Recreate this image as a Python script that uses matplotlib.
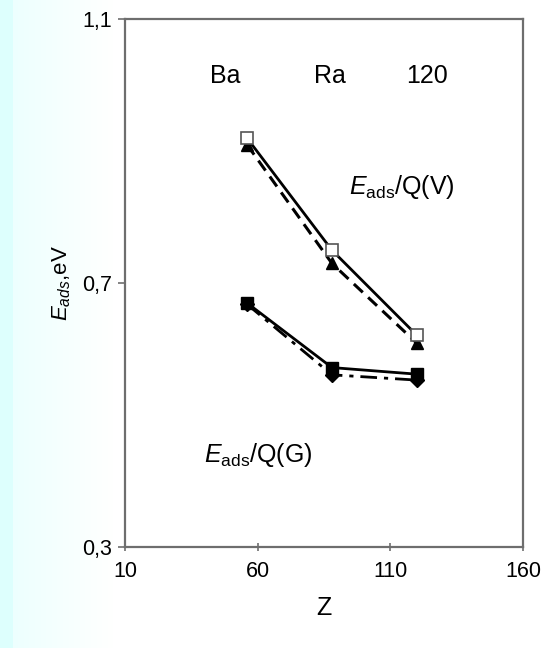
import numpy as np
import matplotlib
matplotlib.use("Agg")
import matplotlib.pyplot as plt

plt.rcParams['font.family'] = ['Liberation Sans', 'DejaVu Sans']
plt.rcParams['mathtext.fontset'] = 'custom'
plt.rcParams['mathtext.rm'] = 'Liberation Sans'
plt.rcParams['mathtext.it'] = 'Liberation Sans:italic'

# Atomic numbers of the adsorbed elements
z = [56, 88, 120]
elements = ["Ba", "Ra", "120"]

# Adsorption energies (eV)
eads_qv_solid = [0.920, 0.750, 0.621]    # open squares, solid line
eads_qv_dashed = [0.910, 0.730, 0.609]   # triangles, dashed line
eads_qg_solid = [0.670, 0.572, 0.562]    # filled squares, solid line
eads_qg_dashdot = [0.668, 0.561, 0.553]  # diamonds, dash-dot line

x_ticks = [10, 60, 110, 160]
y_ticks = [0.3, 0.7, 1.1]
y_tick_labels = ["0,3", "0,7", "1,1"]

fig = plt.figure(figsize=(5.47, 6.48), dpi=100)

# soft cyan band along the left edge of the slide
bg = fig.add_axes([0, 0, 1, 1], zorder=-10)
w = 547
xs = np.arange(w)
fade = np.clip(1 - (xs - 13) / 100.0, 0, 1) * 0.07
fade[xs < 13] = 0.13
row = np.stack([1 - fade, np.ones(w), np.ones(w) - fade * 0.05], axis=1)
img = np.repeat(row[None, :, :], 10, axis=0)
bg.imshow(img, aspect='auto', extent=[0, 1, 0, 1])
bg.set_axis_off()

ax = fig.add_axes([0.2285, 0.156, 0.7276, 0.814])
ax.set_facecolor('white')

ax.plot(z, eads_qv_dashed, color='black', lw=2.2, ls=(0, (4, 2.4)),
        marker='^', ms=8.5, mfc='black', mec='black', zorder=3)
ax.plot(z, eads_qv_solid, color='black', lw=2.0, ls='-',
        marker='s', ms=8.5, mfc='white', mec='#555555', mew=1.2, zorder=4)
ax.plot(z, eads_qg_dashdot, color='black', lw=2.0, ls=(0, (6, 2.5, 1.5, 2.5)),
        marker='D', ms=7, mfc='black', mec='black', zorder=3)
ax.plot(z, eads_qg_solid, color='black', lw=2.0, ls='-',
        marker='s', ms=8.5, mfc='black', mec='black', zorder=4)

ax.set_xlim(10, 160)
ax.set_ylim(0.3, 1.1)
ax.set_xticks(x_ticks)
ax.set_xticklabels([str(t) for t in x_ticks])
ax.set_yticks(y_ticks)
ax.set_yticklabels(y_tick_labels)

for s in ax.spines.values():
    s.set_color('#6e6e6e')
    s.set_linewidth(1.6)
ax.tick_params(axis='y', direction='out', length=5, width=1.2, color='#6e6e6e',
               labelsize=15.5, pad=4)
ax.tick_params(axis='x', direction='inout', length=6, width=1.2, color='#6e6e6e',
               labelsize=15.5, pad=7)

ax.set_xlabel("Z", fontsize=18, labelpad=10)
ax.set_ylabel(r"$\mathit{E}_{\mathit{ads}}$,eV", fontsize=16, labelpad=7)

label_x = [47.7, 87.3, 123.8]
for name, lx in zip(elements, label_x):
    ax.text(lx, 1.014, name, fontsize=18, ha='center', va='center')

ax.text(94.4, 0.846, r"$\mathit{E}_{\mathrm{ads}}$/Q(V)", fontsize=18,
        ha='left', va='center')
ax.text(39.8, 0.440, r"$\mathit{E}_{\mathrm{ads}}$/Q(G)", fontsize=18,
        ha='left', va='center')

fig.savefig("out.png", dpi=100)
